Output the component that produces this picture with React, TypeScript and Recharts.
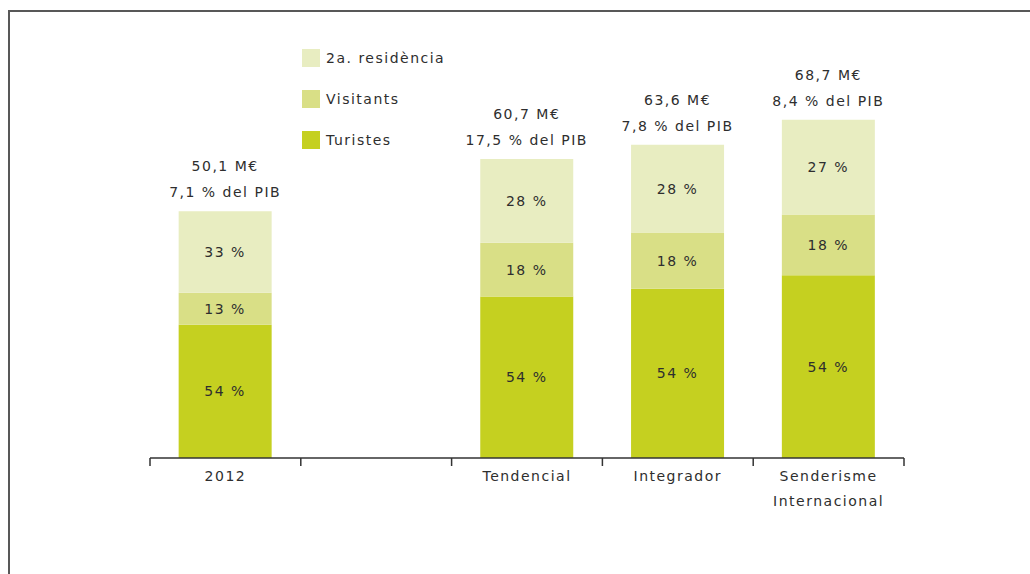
import React from 'react'
import { BarChart, Bar, XAxis, YAxis, LabelList } from 'recharts'

const categories = ['2012', '', 'Tendencial', 'Integrador', 'Senderisme Internacional']
const totals = [50.1, null, 60.7, 63.6, 68.7]
const totalLabels = ['50,1 M€', '', '60,7 M€', '63,6 M€', '68,7 M€']
const pibLabels = ['7,1 % del PIB', '', '17,5 % del PIB', '7,8 % del PIB', '8,4 % del PIB']
const turistesPct = [54, null, 54, 54, 54]
const visitantsPct = [13, null, 18, 18, 18]
const residenciaPct = [33, null, 28, 28, 27]

const seriesNames = ['Turistes', 'Visitants', '2a. residència']
const colors = ['#c5d020', '#d9df86', '#e8edc1']

const W = 1030
const H = 574
const AXIS_Y = 458
const AXIS_H = 30
const M = { top: 64, right: 126, bottom: H - AXIS_Y - AXIS_H, left: 150 }
const BAND = (W - M.left - M.right) / categories.length
const FONT = '"DejaVu Sans", sans-serif'
const TEXT = '#2e2e2e'

const part = (total: number | null, pct: number | null) =>
  total == null || pct == null ? null : (total * pct) / 100

// the printed shares are rounded, so the top block takes whatever is left of the total
const data = categories.map((name, i) => {
  const turistes = part(totals[i], turistesPct[i])
  const visitants = part(totals[i], visitantsPct[i])
  const total = totals[i]
  return {
    name,
    turistes,
    visitants,
    residencia: total == null ? null : total - (turistes ?? 0) - (visitants ?? 0),
  }
})

const textStyle = { fontFamily: FONT, fontSize: 14, letterSpacing: 1.5, fill: TEXT }

// label value is the category name, so look the row up by it
const pctLabel = (pcts: (number | null)[]) => (props: any) => {
  const { x, y, width, height, value } = props
  const i = categories.indexOf(value)
  const p = pcts[i]
  if (i < 0 || p == null) return null
  return (
    <text x={x + width / 2} y={y + height / 2} textAnchor="middle" dominantBaseline="central" style={textStyle}>
      {p} %
    </text>
  )
}

const topLabel = (props: any) => {
  const { x, y, width, value } = props
  const i = categories.indexOf(value)
  if (i < 0 || totals[i] == null) return null
  const cx = x + width / 2
  return (
    <g>
      <text x={cx} y={y - 45} textAnchor="middle" dominantBaseline="central" style={textStyle}>
        {totalLabels[i]}
      </text>
      <text x={cx} y={y - 19} textAnchor="middle" dominantBaseline="central" style={textStyle}>
        {pibLabels[i]}
      </text>
    </g>
  )
}

const CategoryTick = (props: any) => {
  const { x, payload, index } = props
  const words = String(payload.value).split(' ')
  const left = x - BAND / 2
  return (
    <g>
      <line x1={left} x2={left} y1={AXIS_Y} y2={AXIS_Y + 8} stroke="#333" strokeWidth={1.5} />
      {index === categories.length - 1 && (
        <line x1={x + BAND / 2} x2={x + BAND / 2} y1={AXIS_Y} y2={AXIS_Y + 8} stroke="#333" strokeWidth={1.5} />
      )}
      {words.map((w, i) => (
        <text key={i} x={x} y={AXIS_Y + 18 + i * 25} textAnchor="middle" dominantBaseline="central" style={textStyle}>
          {w}
        </text>
      ))}
    </g>
  )
}

const LegendBox = () => (
  <div
    style={{
      position: 'absolute',
      left: 302,
      top: 37,
      fontFamily: FONT,
      fontSize: 14,
      letterSpacing: 1.5,
      color: TEXT,
    }}
  >
    {[2, 1, 0].map((k) => (
      <div key={k} style={{ display: 'flex', alignItems: 'center', height: 41 }}>
        <span style={{ width: 18, height: 18, background: colors[k], marginRight: 6 }} />
        <span>{seriesNames[k]}</span>
      </div>
    ))}
  </div>
)

export default function App() {
  return (
    <div style={{ position: 'absolute', left: 0, top: 0, width: W, height: H, overflow: 'hidden', background: '#fff' }}>
      <div
        style={{
          position: 'absolute',
          left: 8,
          top: 10,
          width: 1100,
          height: 700,
          border: '2px solid #585858',
        }}
      />
      <div style={{ position: 'absolute', left: 0, top: 0 }}>
        <BarChart width={W} height={H} data={data} margin={M} barCategoryGap="19%">
          <XAxis
            dataKey="name"
            height={AXIS_H}
            tickLine={false}
            axisLine={{ stroke: '#333', strokeWidth: 1.5 }}
            tick={<CategoryTick />}
            interval={0}
          />
          <YAxis hide domain={[0, 80]} />
          <Bar dataKey="turistes" stackId="a" fill={colors[0]} isAnimationActive={false}>
            <LabelList dataKey="name" content={pctLabel(turistesPct)} />
          </Bar>
          <Bar dataKey="visitants" stackId="a" fill={colors[1]} isAnimationActive={false}>
            <LabelList dataKey="name" content={pctLabel(visitantsPct)} />
          </Bar>
          <Bar dataKey="residencia" stackId="a" fill={colors[2]} isAnimationActive={false}>
            <LabelList dataKey="name" content={pctLabel(residenciaPct)} />
            <LabelList dataKey="name" content={topLabel} />
          </Bar>
        </BarChart>
      </div>
      <LegendBox />
    </div>
  )
}
